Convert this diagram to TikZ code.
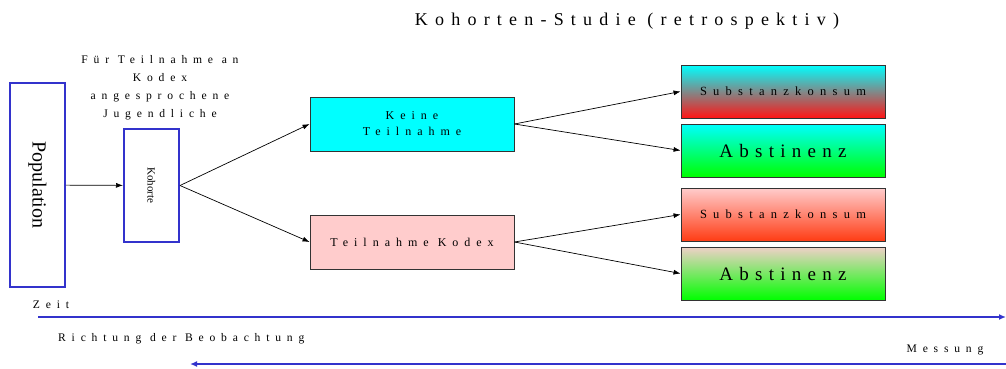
\documentclass[tikz,border=0pt]{standalone}
\usepackage{fontspec}
\setmainfont{Liberation Serif}
\newfontfamily\spaced[LetterSpace=50]{Liberation Serif}
\newfontfamily\wide[LetterSpace=40]{Liberation Serif}
\newfontfamily\loose[LetterSpace=33]{Liberation Serif}
\usetikzlibrary{arrows.meta}
\definecolor{popblue}{RGB}{51,51,204}
\definecolor{kodexpink}{RGB}{255,204,204}
\definecolor{aqua}{RGB}{0,255,255}
\definecolor{brightred}{RGB}{255,20,20}
\definecolor{orangered}{RGB}{255,60,20}
\definecolor{brightgreen}{RGB}{0,255,0}
\definecolor{paleskin}{RGB}{240,208,200}
\tikzset{
    popbox/.style={draw=popblue, line width=2pt, fill=white, inner sep=0pt},
    groupbox/.style={draw=black!80, line width=0.9pt, inner sep=0pt, minimum width=204pt, minimum height=54pt, align=center, font=\spaced\fontsize{12}{16}\selectfont},
    resultbox/.style={draw=black!80, line width=0.9pt, inner sep=0pt, minimum width=204pt, minimum height=53pt},
    flow/.style={-{Latex[length=7pt,width=5pt]}, line width=0.7pt},
    timeline/.style={draw=popblue, line width=2pt},
    lbl/.style={inner sep=0pt, font=\spaced\fontsize{11.6}{18}\selectfont}
}
\begin{document}
\begin{tikzpicture}[x=1pt, y=-1pt]
    \useasboundingbox (0,0) rectangle (1006,368);
    % title
    \node[lbl, font=\wide\fontsize{18}{20}\selectfont] (title) at (627,21) {Kohorten-Studie (retrospektiv)};
    % population and cohort
    \node[popbox, minimum width=55pt, minimum height=204pt] (pop) at (37.5,185) {};
    \node[rotate=-90, font=\fontsize{20}{24}\selectfont] at (pop) {Population};
    \node[popbox, minimum width=55pt, minimum height=113pt] (koh) at (151.5,185.5) {};
    \node[rotate=-90, font=\fontsize{11}{13}\selectfont] at (koh) {Kohorte};
    \node[lbl, align=center] (kohlbl) at (160,88) {Für Teilnahme an\\Kodex\\angesprochene\\Jugendliche};
    % groups
    \node[groupbox, fill=aqua] (keine) at (412,124) {Keine\\Teilnahme};
    \node[groupbox, fill=kodexpink] (kodex) at (412,242) {Teilnahme Kodex};
    % outcomes
    \node[resultbox, top color=aqua, bottom color=brightred, font=\spaced\fontsize{12.5}{14}\selectfont] (sub1) at (783,91.5) {Substanzkonsum};
    \node[resultbox, top color=aqua, bottom color=brightgreen, font=\loose\fontsize{19}{21}\selectfont] (abs1) at (783,150.5) {Abstinenz};
    \node[resultbox, top color=kodexpink, bottom color=orangered, font=\spaced\fontsize{12.5}{14}\selectfont] (sub2) at (783,214.5) {Substanzkonsum};
    \node[resultbox, top color=paleskin, bottom color=brightgreen, font=\loose\fontsize{19}{21}\selectfont] (abs2) at (783,273.5) {Abstinenz};
    % connectors
    \draw[flow] (pop) -- (koh);
    \draw[flow] (koh.east) -- (keine.west);
    \draw[flow] (koh.east) -- (kodex.west);
    \draw[flow] (keine.east) -- (sub1.west);
    \draw[flow] (keine.east) -- (abs1.west);
    \draw[flow] (kodex.east) -- (sub2.west);
    \draw[flow] (kodex.east) -- (abs2.west);
    % time axis
    \coordinate (zeitA) at (38,317);
    \coordinate (zeitB) at (1006,317);
    \coordinate (beobA) at (1006,364);
    \coordinate (beobB) at (190,364);
    \draw[timeline, -{Latex[length=7pt,width=6pt]}] (zeitA) -- (zeitB);
    \draw[timeline, -{Latex[length=7pt,width=6pt]}] (beobA) -- (beobB);
    \node[lbl] (zeit) at (51,305) {Zeit};
    \node[lbl, anchor=west] (richtung) at (58,339) {Richtung der Beobachtung};
    \node[lbl] (messung) at (945,350) {Messung};
\end{tikzpicture}
\end{document}
